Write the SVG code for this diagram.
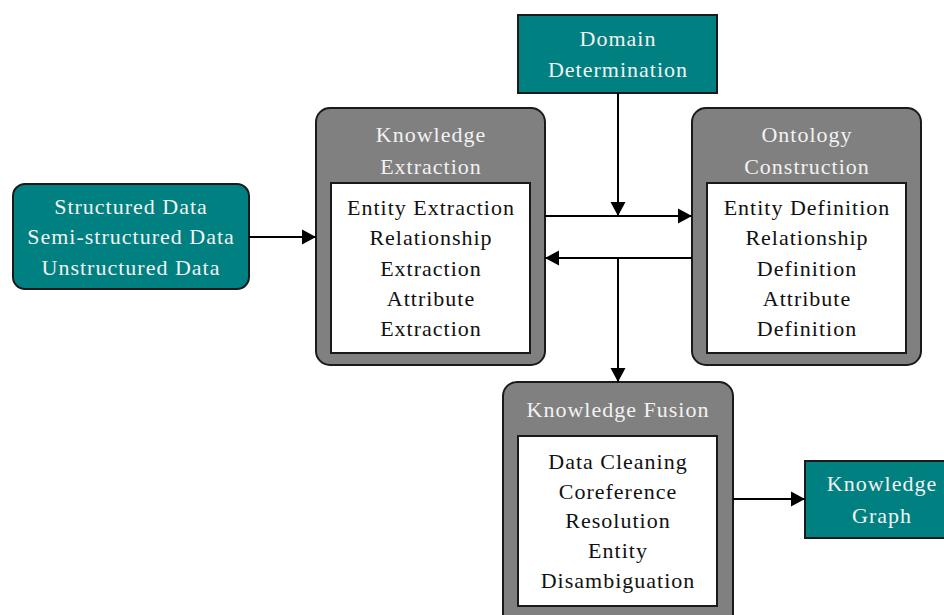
<svg xmlns="http://www.w3.org/2000/svg" width="944" height="615" viewBox="0 0 944 615">
<style>
  .teal{fill:#008080;stroke:#1a1a1a;stroke-width:2}
  .outer{fill:#808080;stroke:#1a1a1a;stroke-width:2}
  .inner{fill:#ffffff;stroke:#1a1a1a;stroke-width:2}
  text{font-family:"Liberation Serif","Times New Roman",serif;font-size:22px;text-anchor:middle;letter-spacing:1px}
  .lt{fill:#f2f2f2}
  .dk{fill:#111111}
  .conn{stroke:#000;stroke-width:2;fill:none}
</style>
<defs>
  <marker id="ah" markerUnits="userSpaceOnUse" markerWidth="16" markerHeight="16" viewBox="0 0 16 16" refX="15" refY="8" orient="auto">
    <path d="M1,0.5 L15,8 L1,15.5 Z" fill="#000"/>
  </marker>
</defs>
<rect width="944" height="615" fill="#fff"/>

<g id="sources">
  <rect class="teal" x="13" y="184" width="236" height="105" rx="12"/>
  <text class="lt" x="131" y="214">Structured Data</text>
  <text class="lt" x="131" y="244">Semi-structured Data</text>
  <text class="lt" x="131" y="275">Unstructured Data</text>
</g>

<g id="domain">
  <rect class="teal" x="518" y="15" width="199" height="78"/>
  <text class="lt" x="618" y="46">Domain</text>
  <text class="lt" x="618" y="77">Determination</text>
</g>

<g id="extraction">
  <rect class="outer" x="316" y="108" width="229" height="257" rx="14"/>
  <text class="lt" x="431" y="142">Knowledge</text>
  <text class="lt" x="431" y="174">Extraction</text>
  <rect class="inner" x="331" y="183" width="199" height="170"/>
  <text class="dk" x="431" y="215">Entity Extraction</text>
  <text class="dk" x="431" y="245">Relationship</text>
  <text class="dk" x="431" y="276">Extraction</text>
  <text class="dk" x="431" y="306">Attribute</text>
  <text class="dk" x="431" y="336">Extraction</text>
</g>

<g id="ontology">
  <rect class="outer" x="692" y="108" width="229" height="257" rx="14"/>
  <text class="lt" x="807" y="142">Ontology</text>
  <text class="lt" x="807" y="174">Construction</text>
  <rect class="inner" x="707" y="183" width="199" height="170"/>
  <text class="dk" x="807" y="215">Entity Definition</text>
  <text class="dk" x="807" y="245">Relationship</text>
  <text class="dk" x="807" y="276">Definition</text>
  <text class="dk" x="807" y="306">Attribute</text>
  <text class="dk" x="807" y="336">Definition</text>
</g>

<g id="fusion">
  <rect class="outer" x="503" y="382" width="230" height="250" rx="14"/>
  <text class="lt" x="618" y="417">Knowledge Fusion</text>
  <rect class="inner" x="518" y="436" width="199" height="170"/>
  <text class="dk" x="618" y="469">Data Cleaning</text>
  <text class="dk" x="618" y="499">Coreference</text>
  <text class="dk" x="618" y="528">Resolution</text>
  <text class="dk" x="618" y="558">Entity</text>
  <text class="dk" x="618" y="588">Disambiguation</text>
</g>

<g id="graph">
  <rect class="teal" x="805" y="461" width="160" height="77"/>
  <text class="lt" x="882" y="491">Knowledge</text>
  <text class="lt" x="882" y="523">Graph</text>
</g>

<g id="connectors">
  <line class="conn" x1="249" y1="237" x2="316" y2="237" marker-end="url(#ah)"/>
  <line class="conn" x1="618" y1="93" x2="618" y2="216" marker-end="url(#ah)"/>
  <line class="conn" x1="545" y1="216" x2="692" y2="216" marker-end="url(#ah)"/>
  <line class="conn" x1="692" y1="258" x2="545" y2="258" marker-end="url(#ah)"/>
  <line class="conn" x1="618" y1="258" x2="618" y2="382" marker-end="url(#ah)"/>
  <line class="conn" x1="733" y1="499" x2="805" y2="499" marker-end="url(#ah)"/>
</g>
</svg>
